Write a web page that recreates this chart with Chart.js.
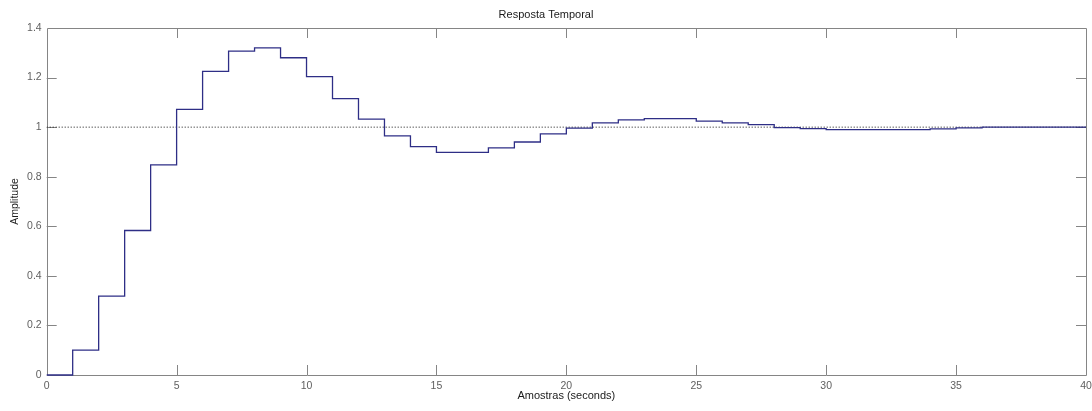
<!DOCTYPE html>
<html lang="pt">
<head>
<meta charset="utf-8">
<title>Resposta Temporal</title>
<script src="https://cdn.jsdelivr.net/npm/chart.js@4/dist/chart.umd.min.js"></script>
<style>
  html, body { margin: 0; padding: 0; background: #fff; }
  #grafico-resposta { display: block; }
</style>
</head>
<body>
<canvas id="grafico-resposta" width="1092" height="411"></canvas>
<script>
/** Amostras k (segundos) */
const amostras = [0, 1, 2, 3, 4, 5, 6, 7, 8, 9, 10, 11, 12, 13, 14, 15, 16, 17, 18, 19, 20,
  21, 22, 23, 24, 25, 26, 27, 28, 29, 30, 31, 32, 33, 34, 35, 36, 37, 38, 39, 40];

/** Resposta ao degrau (amplitude em cada amostra) */
const amplitude = [0, 0.100, 0.318, 0.583, 0.848, 1.072, 1.225, 1.307, 1.320, 1.280, 1.204,
  1.115, 1.032, 0.965, 0.921, 0.898, 0.898, 0.916, 0.940, 0.973, 0.996,
  1.017, 1.029, 1.034, 1.034, 1.024, 1.017, 1.010, 0.998, 0.994, 0.990,
  0.990, 0.990, 0.990, 0.993, 0.997, 1.000, 1.000, 1.000, 1.000, 1.000];

/** Valor final (linha pontilhada) */
const valorFinal = [1, 1];
const limitesX = [0, 40];

/** Marcas dos eixos */
const ticksX = [0, 5, 10, 15, 20, 25, 30, 35, 40];
const ticksY = [0, 0.2, 0.4, 0.6, 0.8, 1, 1.2, 1.4];

const corEixo = '#858585';
const corTexto = '#5f5f5f';
const fonte = 'Liberation Sans, Arial, Helvetica, sans-serif';

/** Caixa do gráfico com marcas para dentro, nos quatro lados */
const caixaEixos = {
  id: 'caixaEixos',
  beforeDatasetsDraw(chart) {
    const { ctx, chartArea: a, scales } = chart;
    const tam = 10;
    ctx.save();
    ctx.strokeStyle = corEixo;
    ctx.lineWidth = 1;
    ctx.beginPath();
    ctx.rect(Math.round(a.left) + 0.5, Math.round(a.top) + 0.5,
      Math.round(a.right) - Math.round(a.left), Math.round(a.bottom) - Math.round(a.top));
    ticksX.slice(1, -1).forEach(v => {
      const x = Math.round(scales.x.getPixelForValue(v)) + 0.5;
      ctx.moveTo(x, a.bottom); ctx.lineTo(x, a.bottom - tam);
      ctx.moveTo(x, a.top); ctx.lineTo(x, a.top + tam);
    });
    ticksY.slice(1, -1).forEach(v => {
      const y = Math.round(scales.y.getPixelForValue(v)) + 0.5;
      ctx.moveTo(a.left, y); ctx.lineTo(a.left + tam, y);
      ctx.moveTo(a.right, y); ctx.lineTo(a.right - tam, y);
    });
    ctx.stroke();
    ctx.restore();
  }
};

/** Rótulo sem zeros à direita (1 e não 1.0) */
const rotulo = (v) => String(Math.round(v * 10) / 10);

const data = {
  datasets: [
    {
      label: 'Resposta',
      data: amostras.map((k, i) => ({ x: k, y: amplitude[i] })),
      borderColor: '#2e2e86',
      borderWidth: 1.3,
      stepped: true,
      pointRadius: 0,
      fill: false,
      clip: 3,
      order: 1
    },
    {
      label: 'Valor final',
      data: limitesX.map((x, i) => ({ x, y: valorFinal[i] })),
      borderColor: '#111',
      borderWidth: 1,
      borderDash: [1, 2],
      pointRadius: 0,
      fill: false,
      order: 2
    }
  ]
};

const options = {
  animation: false,
  responsive: false,
  layout: { padding: { left: 0, right: 0, top: 0, bottom: 0 } },
  plugins: {
    legend: { display: false },
    tooltip: { enabled: false },
    title: {
      display: true,
      text: 'Resposta Temporal',
      color: '#1a1a1a',
      font: { family: fonte, size: 11, weight: 'normal' },
      padding: { top: 8, bottom: 6.8 }
    }
  },
  scales: {
    x: {
      type: 'linear',
      min: 0,
      max: 40,
      afterBuildTicks: (s) => { s.ticks = ticksX.map(value => ({ value })); },
      afterFit: (s) => { s.height = 36; s.paddingRight = 6; s.paddingLeft = 0; },
      grid: { display: false, drawTicks: false },
      border: { display: false },
      ticks: { color: corTexto, padding: 5, maxRotation: 0, callback: rotulo, font: { family: fonte, size: 10.5 } },
      title: {
        display: true,
        text: 'Amostras (seconds)',
        color: '#1a1a1a',
        font: { family: fonte, size: 11 },
        padding: { top: 0, bottom: 8.5 }
      }
    },
    y: {
      type: 'linear',
      min: 0,
      max: 1.4,
      afterBuildTicks: (s) => { s.ticks = ticksY.map(value => ({ value })); },
      afterFit: (s) => { s.width = 46.7; },
      grid: { display: false, drawTicks: false },
      border: { display: false },
      ticks: { color: corTexto, padding: 5, callback: rotulo, font: { family: fonte, size: 10.5 } },
      title: {
        display: true,
        text: 'Amplitude',
        color: '#1a1a1a',
        font: { family: fonte, size: 10.5 },
        padding: { top: 8.5, bottom: 0 }
      }
    }
  }
};

const ctx = document.getElementById('grafico-resposta').getContext('2d');
new Chart(ctx, { type: 'line', data, options, plugins: [caixaEixos] });
</script>
</body>
</html>
